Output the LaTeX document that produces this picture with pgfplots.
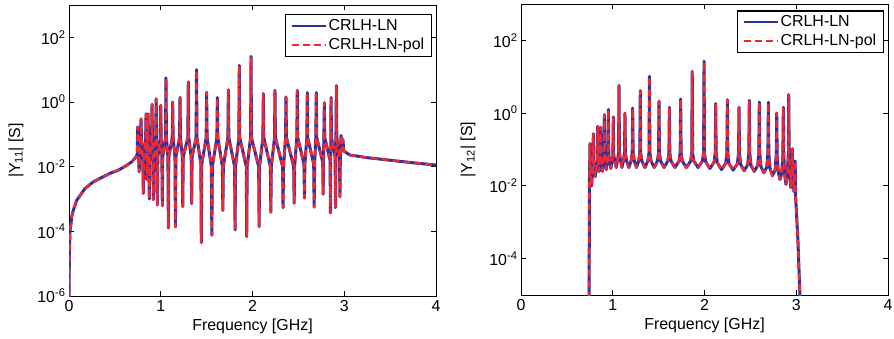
\documentclass[border=0pt]{standalone}
\usepackage{fontspec}
\setmainfont{Liberation Sans}
\usepackage{pgfplots}
\pgfplotsset{compat=1.18}
\usepackage{pgfplotstable}
\definecolor{mblue}{RGB}{40,50,160}
\definecolor{mred}{RGB}{240,40,50}

% |Y11| (S) vs frequency (GHz)
\pgfplotstableread{
f y
0.000 1e-7
0.003 1e-5
0.006 3e-5
0.011 1.07e-4
0.022 1.74e-4
0.029 2.8e-4
0.047 4.5e-4
0.084 9.1e-4
0.174 2.1e-3
0.265 3.4e-3
0.356 4.6e-3
0.447 6.2e-3
0.538 7.8e-3
0.629 1.1e-2
0.683 1.4e-2
0.730 2.0e-2
0.745 2.5e-2
0.748 0.17
0.752 0.03
0.760 0.015
0.765 0.0069
0.770 0.03
0.780 0.07
0.785 0.30
0.790 0.07
0.805 0.015
0.810 0.0015
0.815 0.015
0.835 0.07
0.840 0.43
0.845 0.05
0.850 0.004
0.855 0.05
0.862 0.43
0.867 0.05
0.871 0.015
0.875 0.001
0.880 0.015
0.900 0.07
0.905 0.85
0.910 0.07
0.916 0.015
0.920 0.00095
0.925 0.015
0.945 0.07
0.950 1.26
0.955 0.07
0.958 0.02
0.963 0.00065
0.968 0.02
0.995 0.07
1.000 0.78
1.005 0.07
1.012 0.02
1.017 0.00062
1.022 0.02
1.052 0.079
1.057 5.6
1.062 0.079
1.078 0.02
1.083 1.26e-4
1.088 0.02
1.125 0.079
1.130 1.0
1.135 0.079
1.155 0.02
1.160 1.38e-4
1.165 0.02
1.205 0.079
1.210 1.38
1.215 0.079
1.235 0.02
1.240 5.8e-4
1.245 0.02
1.295 0.079
1.300 4.2
1.305 0.079
1.332 0.02
1.337 7.1e-4
1.342 0.02
1.385 0.079
1.390 10.0
1.395 0.079
1.437 0.012
1.442 4.5e-5
1.447 0.012
1.495 0.079
1.500 2.0
1.505 0.079
1.552 0.01
1.557 7.6e-5
1.562 0.01
1.612 0.079
1.617 1.38
1.622 0.079
1.672 0.01
1.677 4.4e-4
1.682 0.01
1.732 0.079
1.737 2.4
1.742 0.079
1.805 0.01
1.810 1.1e-4
1.815 0.01
1.851 0.079
1.856 13.5
1.861 0.079
1.932 0.01
1.937 6.9e-5
1.942 0.01
1.979 0.079
1.984 25.7
1.989 0.079
2.067 0.01
2.072 1.4e-4
2.077 0.01
2.113 0.079
2.118 1.82
2.123 0.079
2.195 0.01
2.200 3.9e-4
2.205 0.01
2.240 0.079
2.245 2.3
2.250 0.079
2.328 0.01
2.333 5.4e-4
2.338 0.01
2.360 0.079
2.365 1.43
2.370 0.079
2.449 0.01
2.454 7.4e-4
2.459 0.01
2.483 0.079
2.488 2.3
2.493 0.079
2.561 0.012
2.566 1.07e-3
2.571 0.012
2.592 0.079
2.597 1.95
2.602 0.079
2.667 0.012
2.672 5.6e-4
2.677 0.012
2.690 0.079
2.695 1.95
2.700 0.079
2.765 0.014
2.770 1.4e-3
2.775 0.03
2.778 0.079
2.783 0.95
2.788 0.079
2.845 0.016
2.850 3.7e-4
2.853 0.04
2.856 1.38
2.861 0.079
2.900 0.02
2.905 5.4e-4
2.909 0.05
2.914 3.24
2.919 0.079
2.948 0.02
2.953 1.17e-3
2.958 0.03
2.965 0.093
2.970 0.04
2.975 0.03
2.985 0.07
2.995 0.03
3.000 0.030
3.060 0.023
3.250 0.019
3.500 0.0158
3.750 0.0132
4.000 0.0112
}\yleft

% |Y12| (S) vs frequency (GHz)
\pgfplotstableread{
f y
0.742 1e-6
0.745 0.009
0.748 0.03
0.752 0.145
0.756 0.03
0.770 0.010
0.783 0.04
0.788 0.27
0.793 0.04
0.810 0.018
0.831 0.05
0.836 0.43
0.841 0.06
0.852 0.025
0.863 0.06
0.868 0.41
0.873 0.06
0.888 0.025
0.903 0.07
0.908 0.91
0.913 0.07
0.930 0.028
0.947 0.07
0.952 1.26
0.957 0.07
0.979 0.030
1.001 0.07
1.006 0.78
1.011 0.07
1.024 0.045
1.037 0.032
1.050 0.048
1.063 0.08
1.068 5.75
1.073 0.08
1.086 0.048
1.100 0.032
1.115 0.048
1.128 0.08
1.133 1.0
1.138 0.08
1.151 0.048
1.175 0.032
1.199 0.048
1.212 0.08
1.217 1.38
1.222 0.08
1.235 0.048
1.258 0.032
1.282 0.048
1.295 0.08
1.300 4.17
1.305 0.08
1.318 0.048
1.350 0.032
1.382 0.048
1.395 0.08
1.400 10.2
1.405 0.08
1.418 0.048
1.452 0.032
1.486 0.048
1.499 0.08
1.504 2.14
1.509 0.08
1.522 0.048
1.560 0.032
1.599 0.048
1.612 0.08
1.617 1.45
1.622 0.08
1.635 0.048
1.678 0.032
1.722 0.048
1.735 0.08
1.740 2.45
1.745 0.08
1.758 0.048
1.803 0.032
1.848 0.048
1.861 0.08
1.866 14.1
1.871 0.08
1.884 0.048
1.930 0.032
1.977 0.048
1.990 0.08
1.995 26.9
2.000 0.08
2.013 0.046
2.058 0.030
2.104 0.045
2.117 0.08
2.122 1.82
2.127 0.08
2.140 0.043
2.185 0.028
2.231 0.042
2.244 0.08
2.249 2.34
2.254 0.08
2.267 0.041
2.312 0.027
2.358 0.040
2.371 0.08
2.376 1.45
2.381 0.08
2.394 0.039
2.432 0.026
2.470 0.038
2.483 0.08
2.488 2.24
2.493 0.08
2.506 0.037
2.542 0.025
2.579 0.036
2.592 0.08
2.597 2.0
2.602 0.08
2.615 0.034
2.646 0.023
2.678 0.032
2.691 0.08
2.696 2.0
2.701 0.08
2.714 0.030
2.741 0.019
2.769 0.027
2.782 0.07
2.787 1.0
2.792 0.07
2.805 0.023
2.823 0.015
2.841 0.022
2.854 0.07
2.859 1.45
2.864 0.07
2.876 0.018
2.888 0.011
2.901 0.017
2.913 0.07
2.918 3.24
2.923 0.06
2.940 0.009
2.954 0.04
2.957 0.105
2.962 0.02
2.975 0.007
2.984 0.03
2.988 0.048
2.993 0.005
3.018 3.2e-4
3.040 1e-5
3.050 4e-6
}\yright

\tikzset{
  lnblue/.style={color=mblue, line width=3bp, line join=round},
  lnred/.style={color=mred, line width=2.4bp, dash pattern=on 7bp off 4bp, line join=round},
}
\pgfplotsset{
  legend image code/.code={\draw[#1, line width=2bp] (0bp,0bp) -- (34bp,0bp);},
}

\begin{document}
\begin{tikzpicture}[x=1bp,y=1bp]
\path[use as bounding box] (0,0) rectangle (894,338);
\begin{axis}[
  scale only axis, width=367bp, height=291bp,
  at={(69bp,42bp)}, anchor=south west,
  ymode=log, xmin=0, xmax=4, ymin=1e-6, ymax=1e3,
  xtick={0,1,2,3,4}, xticklabels={0,1,2,3,4},
  ytick={1e-6,1e-4,1e-2,1,1e2},
  yticklabels={10\textsuperscript{-6},10\textsuperscript{-4},10\textsuperscript{-2},10\textsuperscript{0},10\textsuperscript{2}},
  tick align=inside, xtick pos=both, ytick pos=both,
  major tick length=5bp, yminorticks=false, xminorticks=false,
  axis line style={line width=0.8bp, black},
  every tick/.style={black, line width=0.8bp},
  tick label style={font=\fontsize{16}{19}\selectfont},
  label style={font=\fontsize{16}{19}\selectfont},
  xticklabel style={yshift=-1bp},
  xlabel={Frequency [GHz]},
  xlabel style={at={(axis description cs:0.5,-0.103)}, anchor=center},
  ylabel={|Y\textsubscript{11}| [S]},
  ylabel style={at={(axis description cs:-0.1444,0.5)}, anchor=center},
  legend style={at={(axis description cs:0.989,0.969)}, anchor=north east,
    draw=black, line width=1.4bp, font=\fontsize{16}{19}\selectfont,
    inner xsep=5bp, inner ysep=3bp, row sep=2bp, cells={anchor=west}},
  ]
\addplot[lnblue] table {\yleft};
\addlegendentry{CRLH-LN}
\addplot[lnred] table {\yleft};
\addlegendentry{CRLH-LN-pol}
\end{axis}
\begin{axis}[
  scale only axis, width=367bp, height=291bp,
  at={(521bp,43bp)}, anchor=south west,
  ymode=log, xmin=0, xmax=4, ymin=1e-5, ymax=1e3,
  xtick={0,1,2,3,4}, xticklabels={0,1,2,3,4},
  ytick={1e-4,1e-2,1,1e2},
  yticklabels={10\textsuperscript{-4},10\textsuperscript{-2},10\textsuperscript{0},10\textsuperscript{2}},
  tick align=inside, xtick pos=both, ytick pos=both,
  major tick length=5bp, yminorticks=false, xminorticks=false,
  axis line style={line width=0.8bp, black},
  every tick/.style={black, line width=0.8bp},
  tick label style={font=\fontsize{16}{19}\selectfont},
  label style={font=\fontsize{16}{19}\selectfont},
  xticklabel style={yshift=-1bp},
  xlabel={Frequency [GHz]},
  xlabel style={at={(axis description cs:0.5,-0.103)}, anchor=center},
  ylabel={|Y\textsubscript{12}| [S]},
  ylabel style={at={(axis description cs:-0.1444,0.5)}, anchor=center},
  legend style={at={(axis description cs:0.989,0.979)}, anchor=north east,
    draw=black, line width=1.4bp, font=\fontsize{16}{19}\selectfont,
    inner xsep=5bp, inner ysep=3bp, row sep=2bp, cells={anchor=west}},
  ]
\addplot[lnblue] table {\yright};
\addlegendentry{CRLH-LN}
\addplot[lnred] table {\yright};
\addlegendentry{CRLH-LN-pol}
\end{axis}
\end{tikzpicture}
\end{document}
